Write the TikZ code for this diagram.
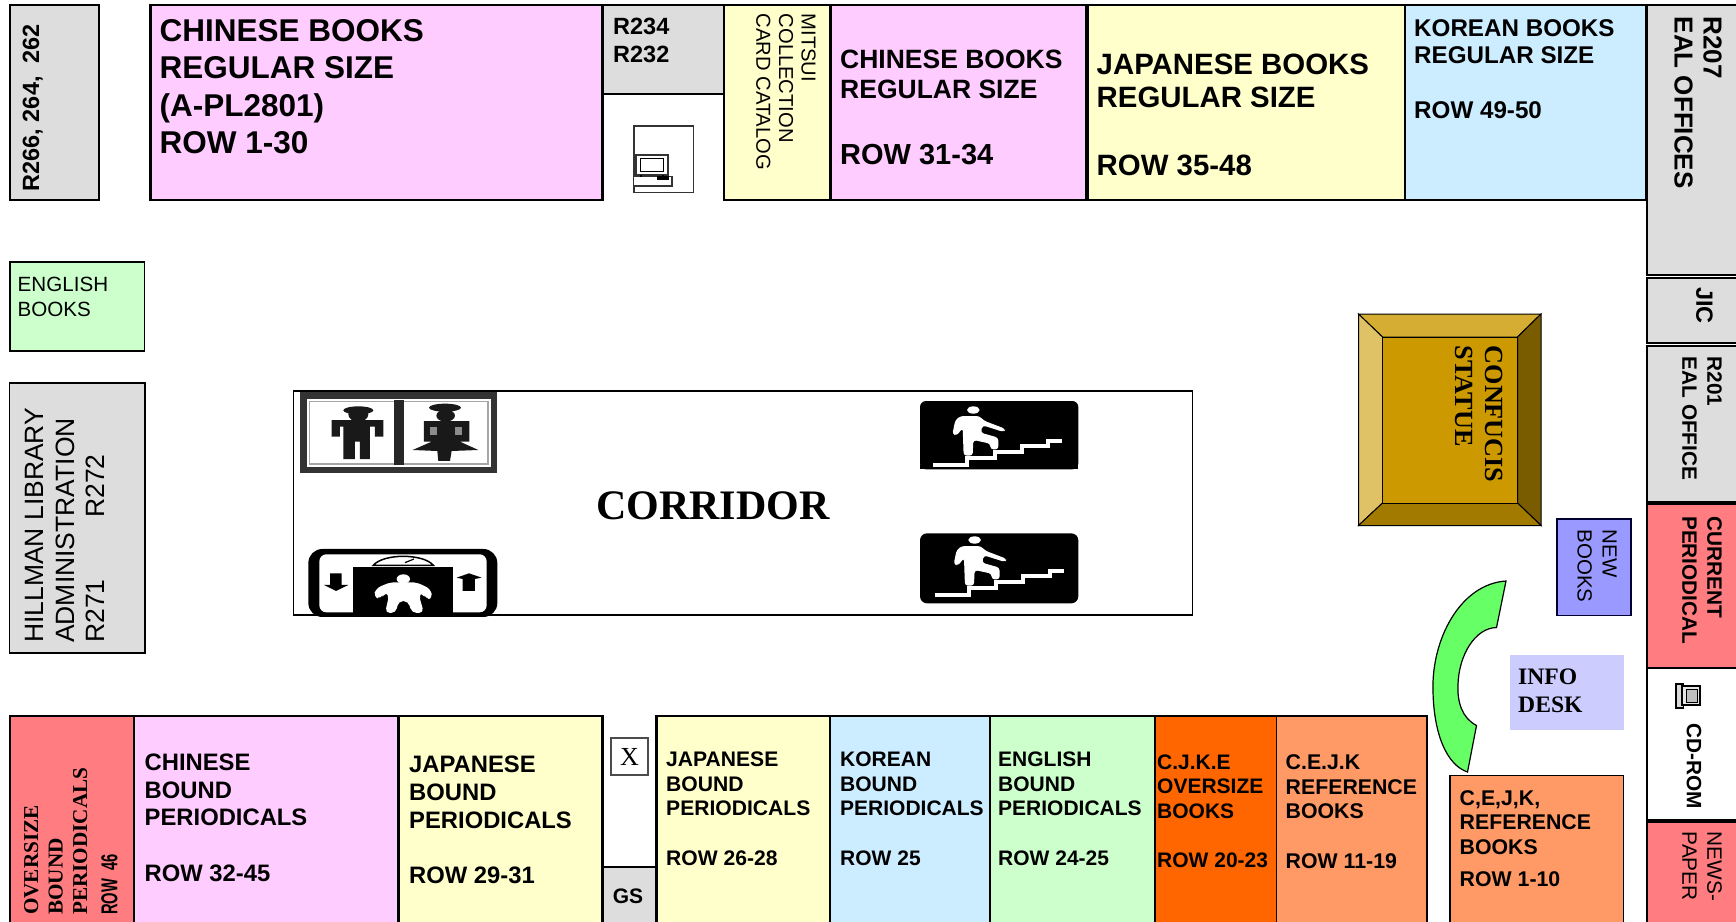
\documentclass[tikz,border=0pt]{standalone}
\usepackage{fontspec}
\setmainfont{Liberation Sans}
\newfontfamily\tms{Liberation Serif}
\newcommand{\fsz}[2]{\fontsize{#1}{#2}\selectfont}
\definecolor{pk}{HTML}{FFCCFF}
\definecolor{yl}{HTML}{FFFFCC}
\definecolor{bl}{HTML}{CCECFF}
\definecolor{gn}{HTML}{CCFFCC}
\definecolor{gy}{HTML}{DDDDDD}
\definecolor{rd}{HTML}{FF7C80}
\definecolor{od}{HTML}{FF6600}
\definecolor{or}{HTML}{FF9966}
\definecolor{nb}{HTML}{9999FF}
\definecolor{ib}{HTML}{CCCCFF}
\definecolor{ar}{HTML}{66FF66}
\definecolor{c0}{HTML}{CC9900}
\definecolor{ct}{HTML}{D6AD33}
\definecolor{cl}{HTML}{E0C266}
\definecolor{cr}{HTML}{7A5C00}
\definecolor{cb}{HTML}{A37A00}
\tikzset{
  box/.style={draw=black,line width=2.4pt},
  thin box/.style={draw=black,line width=1.6pt},
  tl/.style={inner sep=0pt,anchor=north west,align=left},
  down/.style={tl,rotate=-90},
  up/.style={tl,rotate=90},
}
% standing man and flight of steps, white on black, in zoom coordinates
\newcommand{\climber}{%
  \fill[white] (190,60) ellipse [x radius=19,y radius=11];
  \fill[white,rounded corners=3pt] (152,78) -- (208,78) -- (222,92) -- (287,117) -- (281,126) -- (218,106) -- (212,128) -- (265,143) -- (265,178) -- (241,178) -- (241,161) -- (190,150) -- (188,197) -- (161,197) -- (158,114) -- (140,137) -- (127,133) -- (136,90) -- cycle;
  \draw[white,line width=3.8pt] (70,226) -- (172,226) -- (172,203) -- (255,203) -- (255,185) -- (335,185) -- (335,168) -- (415,168) -- (415,153) -- (457,153);
}
\begin{document}
\begin{tikzpicture}[x=1pt,y=-1pt]
\useasboundingbox (0,0) rectangle (1736,921);
\clip (0,0) rectangle (1736,921);
\fill[white] (0,0) rectangle (1736,921);

% ---- top row
\draw[box,fill=gy] (10,5) rectangle (99,200);
\draw[box,fill=pk] (150.5,5) rectangle (602.5,200);
\draw[box,fill=gy] (602.5,5) rectangle (724,94);
\draw[thin box,fill=yl] (724,5) rectangle (830.5,200);
\draw[box,fill=pk] (830.5,5) rectangle (1086,200);
\draw[thin box,fill=yl] (1088,5) rectangle (1405,200);
\draw[thin box,fill=bl] (1405,5) rectangle (1646,200);
% ---- right column
\draw[thin box,fill=gy] (1647,5) rectangle (1740,275);
\draw[thin box,fill=gy] (1647,278) rectangle (1740,343);
\draw[thin box,fill=gy] (1647,346) rectangle (1740,502);
\draw[thin box,fill=rd] (1647,504) rectangle (1740,668);
\draw[thin box,fill=white] (1647,668) rectangle (1740,820);
\draw[thin box,fill=rd] (1647,822) rectangle (1740,930);
% ---- left column
\draw[thin box,fill=gn] (10,262) rectangle (144.5,351);
\draw[thin box,fill=gy] (9.5,383) rectangle (145,653);
% ---- bottom row
\draw[box,fill=rd] (10,716) rectangle (134,930);
\draw[box,fill=pk] (134,716) rectangle (398.5,930);
\draw[box,fill=yl] (398.5,716) rectangle (602.5,930);
\draw[box,fill=gy] (602.5,867) rectangle (656.5,930);
\draw[box,fill=yl] (656.5,716) rectangle (830.5,930);
\draw[thin box,fill=bl] (830.5,716) rectangle (990,930);
\draw[thin box,fill=gn] (990,716) rectangle (1155,930);
\draw[thin box,fill=od] (1155,716) rectangle (1276.5,930);
\draw[thin box,fill=or] (1276.5,716) rectangle (1427,930);
\draw[thin box,fill=or] (1450,775.5) rectangle (1623.5,930);
\draw[draw=black!70,line width=1.2pt,fill=white] (611,738) rectangle (648,775);
% ---- corridor
\draw[draw=black,line width=1.8pt] (293.5,391) rectangle (1192.5,615);
% restrooms icon
\begin{scope}[shift={(290,385)},x=0.3333pt,y=-0.3333pt]
  \draw[draw=black!80,line width=6.5pt,fill=white] (40,32) rectangle (612,255);
  \draw[draw=black!35,line width=1.5pt] (58,50) rectangle (594,237);
  \fill[black!85] (312,45) rectangle (343,240);
  \fill[black!90] (205,76) ellipse [x radius=45,y radius=12];
  \fill[black!90] (205,88) ellipse [x radius=30,y radius=22];
  \fill[black!90] (125,105) -- (280,105) -- (280,155) -- (255,155) -- (255,125) -- (240,125) -- (240,222) -- (210,222) -- (210,170) -- (195,170) -- (195,222) -- (160,222) -- (160,125) -- (150,125) -- (150,155) -- (125,155) -- cycle;
  \fill[black!90] (465,68) ellipse [x radius=48,y radius=12];
  \fill[black!90] (467,92) ellipse [x radius=28,y radius=18];
  \fill[black!90] (402,108) -- (538,108) -- (538,170) -- (510,170) -- (565,195) -- (485,198) -- (480,228) -- (445,228) -- (442,198) -- (368,195) -- (425,170) -- (402,170) -- cycle;
  \fill[black!45] (420,125) rectangle (440,150);
  \fill[black!45] (495,125) rectangle (515,150);
\end{scope}
% elevator icon
\begin{scope}[shift={(290,385)},x=0.3333pt,y=-0.3333pt]
  \fill[black,rounded corners=14pt] (55,492) rectangle (622,696);
  \fill[white,rounded corners=7pt] (88,508) rectangle (590,682);
  \fill[black] (190,545) rectangle (490,696);
  \draw[black,line width=1.5pt] (250,541) .. controls (280,505) and (400,505) .. (430,541) -- cycle;
  \draw[black,line width=1.2pt] (345,533) -- (372,522);
  \fill[black] (120,565) -- (155,565) -- (155,600) -- (175,600) -- (138,618) -- (102,600) -- (120,600) -- cycle;
  \fill[black] (518,618) -- (555,618) -- (555,582) -- (575,578) -- (537,565) -- (500,578) -- (518,582) -- cycle;
  \fill[white] (340,582) ellipse [x radius=20,y radius=14];
  \fill[white,rounded corners=5pt] (300,592) -- (380,592) -- (422,612) -- (428,642) -- (408,642) -- (396,622) -- (386,628) -- (402,684) -- (365,684) -- (355,648) -- (325,648) -- (318,684) -- (285,684) -- (298,628) -- (285,622) -- (272,642) -- (250,636) -- (258,610) -- cycle;
\end{scope}
% stairs icons
\begin{scope}[shift={(910,390)},x=0.3333pt,y=-0.3333pt]
  \fill[black,rounded corners=6pt] (30,238) -- (30,33) -- (505,33) -- (505,238) -- cycle;
  \fill[black] (30,225) rectangle (505,238);
  \climber
\end{scope}
\begin{scope}[shift={(910,390)},x=0.3333pt,y=-0.3333pt]
  \fill[black,rounded corners=7pt] (30,430) rectangle (505,640);
\end{scope}
\begin{scope}[shift={(911.3,520)},x=0.3333pt,y=-0.3333pt]
  \climber
\end{scope}
% ---- computer in the alcove
\draw[draw=black!80,line width=1.4pt,fill=white] (634,126) rectangle (693.3,192.5);
\begin{scope}[shift={(600,90)},x=0.3333pt,y=-0.3333pt]
  \draw[draw=black!80,line width=1.2pt,fill=white] (108,195) rectangle (204,255);
  \draw[draw=black,line width=1pt] (122,205) rectangle (190,245);
  \draw[draw=black!80,line width=1.2pt,fill=white] (100,260) rectangle (216,288);
  \fill[black] (172,258) rectangle (208,271);
  \fill[black] (120,255) rectangle (126,260);
  \fill[black] (185,255) rectangle (191,260);
\end{scope}
% ---- CD-ROM computer
\draw[draw=black,line width=1.2pt,fill=black!15] (1676,684) rectangle (1683.5,708);
\draw[draw=black,line width=1.2pt,fill=black!10] (1682,686) rectangle (1700,705);
\draw[draw=black,line width=0.8pt,fill=black!25] (1686.5,689) rectangle (1697,702);
% ---- Confucius statue
\draw[draw=black,line width=1pt,fill=ct] (1358.5,314) -- (1541,314) -- (1517.5,337) -- (1382.5,337) -- cycle;
\draw[draw=black,line width=1pt,fill=cl] (1358.5,314) -- (1382.5,337) -- (1382.5,503) -- (1358.5,525.5) -- cycle;
\draw[draw=black,line width=1pt,fill=cr] (1541,314) -- (1541,525.5) -- (1517.5,503) -- (1517.5,337) -- cycle;
\draw[draw=black,line width=1pt,fill=cb] (1358.5,525.5) -- (1382.5,503) -- (1517.5,503) -- (1541,525.5) -- cycle;
\draw[draw=black,line width=1pt,fill=c0] (1382.5,337) rectangle (1517.5,503);
% ---- new books, arc, info desk
\draw[draw=black!80!blue,line width=1.5pt,fill=nb] (1557,519) rectangle (1631,615.5);
\draw[draw=black,line width=1.2pt,fill=ar] (1506,581) .. controls (1460,584) and (1431,640) .. (1433,692) .. controls (1434,735) and (1447,765) .. (1467.5,772) -- (1476.5,725.5) .. controls (1462,718) and (1457,702) .. (1458,684) .. controls (1459,655) and (1475,628) .. (1496.5,627.5) -- cycle;
\fill[ib] (1510,654.5) rectangle (1624,730);

% ---- labels
\node[up,font={\fsz{23.5}{28}\bfseries}] (r266) at (22.5,191.5) {R266, 264,\ \ 262};
\node[tl,font={\fsz{31.5}{37.5}\bfseries}] (chA) at (159.5,19) {CHINESE BOOKS\\REGULAR SIZE\\(A-PL2801)\\ROW 1-30};
\node[tl,font={\fsz{23.5}{28}\bfseries}] (r234) at (613,18) {R234\\R232};
\node[down,font={\fsz{20.2}{22.7}}] (mitsui) at (816,13.5) {MITSUI\\COLLECTION\\CARD CATALOG};
\node[tl,font={\fsz{26.5}{30}\bfseries}] (chB) at (840,49.5) {CHINESE BOOKS\\REGULAR SIZE\\[36pt]\fsz{29}{30}ROW 31-34};
\node[tl,font={\fsz{29.4}{33.5}\bfseries}] (jaB) at (1096.5,53.5) {JAPANESE BOOKS\\REGULAR SIZE\\[34pt]ROW 35-48};
\node[tl,font={\fsz{24.2}{27}\bfseries}] (koB) at (1414,19.5) {KOREAN BOOKS\\REGULAR SIZE\\[28pt]ROW 49-50};
\node[down,font={\fsz{26}{29}\bfseries}] (r207) at (1722,16.5) {R207\\EAL OFFICES};
\node[down,font={\fsz{23.5}{28}\bfseries}] (jic) at (1713,287) {JIC};
\node[down,font={\fsz{20.8}{25}\bfseries}] (r201) at (1722,356.5) {R201\\EAL OFFICE};
\node[down,font={\fsz{20.8}{25}\bfseries}] (cur) at (1722,516) {CURRENT\\PERIODICAL};
\node[down,font={\fsz{20.8}{25}\bfseries}] (cd) at (1701.5,723) {CD-ROM};
\node[down,font={\fsz{20.8}{25}}] (news) at (1722,831.5) {NEWS-\\PAPER};
\node[down,font={\fsz{20.5}{25}}] (newb) at (1617,529.5) {NEW\\BOOKS};
\node[down,font={\tms\fsz{26.2}{30}\bfseries}] (conf) at (1503.5,345.5) {CONFUCIS\\STATUE};
\node[tl,font={\tms\fsz{23.6}{27.7}\bfseries}] (info) at (1518,669) {INFO\\DESK};
\node[tl,font={\fsz{20.6}{25}}] (eng) at (17.5,276.5) {ENGLISH\\BOOKS};
\node[up,font={\fsz{26.5}{30.7}}] (hill) at (25,643) {HILLMAN LIBRARY\\ADMINISTRATION\\\makebox[125pt][l]{R271}R272};
\node[font={\tms\fsz{42}{48}\bfseries},inner sep=0pt] (corr) at (713,506) {CORRIDOR};
\node[font={\tms\fsz{26}{30}},inner sep=0pt] (x) at (629.5,757) {X};
\node[font={\fsz{21}{25}\bfseries},inner sep=0pt] (gs) at (628,896) {GS};
\node[up,font={\tms\fsz{21.2}{24.5}\bfseries}] (ovs) at (24,915) {OVERSIZE\\BOUND\\PERIODICALS};
\node[up,font={\fsz{23}{25}\bfseries}] (ovr) at (101,915) {\scalebox{0.64}[1]{ROW\ \ 46}};
\node[tl,font={\fsz{23.8}{27.7}\bfseries}] (chP) at (144.5,753.5) {CHINESE\\BOUND\\PERIODICALS\\[28pt]ROW 32-45};
\node[tl,font={\fsz{23.8}{27.7}\bfseries}] (jaP) at (409,756) {JAPANESE\\BOUND\\PERIODICALS\\[28pt]ROW 29-31};
\node[tl,font={\fsz{21.1}{24.5}\bfseries}] (jaQ) at (666,752) {JAPANESE\\BOUND\\PERIODICALS\\[25pt]ROW 26-28};
\node[tl,font={\fsz{21}{24.5}\bfseries}] (koP) at (840,752) {KOREAN\\BOUND\\PERIODICALS\\[25pt]ROW 25};
\node[tl,font={\fsz{21}{24.5}\bfseries}] (enP) at (998,752) {ENGLISH\\BOUND\\PERIODICALS\\[25pt]ROW 24-25};
\node[tl,font={\fsz{21}{24.5}\bfseries}] (cjke) at (1157,754.5) {C.J.K.E\\OVERSIZE\\BOOKS\\[25pt]ROW 20-23};
\node[tl,font={\fsz{21.3}{24.5}\bfseries}] (cejk) at (1285.5,754.5) {C.E.J.K\\REFERENCE\\BOOKS\\[25pt]ROW 11-19};
\node[tl,font={\fsz{21.3}{24.7}\bfseries}] (ref) at (1459.5,790) {C,E,J,K,\\REFERENCE\\BOOKS\\[7pt]ROW 1-10};
\end{tikzpicture}
\end{document}
